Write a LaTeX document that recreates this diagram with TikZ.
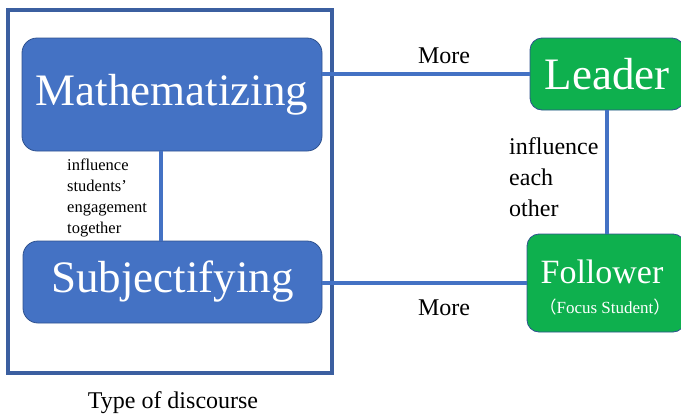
\documentclass[tikz,border=0pt]{standalone}
\usepackage{fontspec}
\setmainfont{Liberation Serif}
\newfontfamily\cjkfont{Noto Sans CJK SC}
\definecolor{boxblue}{HTML}{4472C4}
\definecolor{edgeblue}{HTML}{2F528F}
\definecolor{framblue}{HTML}{3B5FA0}
\definecolor{boxgreen}{HTML}{0EB04E}
\begin{document}
\begin{tikzpicture}[x=1pt,y=-1pt,
  bluebox/.style={draw=edgeblue,line width=0.8pt,fill=boxblue,rounded corners=15pt,text=white,inner sep=0pt},
  greenbox/.style={draw=edgeblue,line width=0.8pt,fill=boxgreen,rounded corners=12pt,text=white,inner sep=0pt},
  link/.style={draw=boxblue,line width=3.5pt},
  lbl/.style={inner sep=0pt,font=\fontsize{24}{31}\selectfont}]
\useasboundingbox (0,0) rectangle (681,413);
\clip (0,0) rectangle (681,413);
\node[draw=framblue,line width=3.5pt,minimum width=324pt,minimum height=363pt,inner sep=0pt] (frame) at (170,191.5) {};
\node[bluebox,minimum width=300pt,minimum height=113pt,font=\fontsize{45}{50}\selectfont] (math) at (172,94.5) {Mathematizing};
\node[bluebox,minimum width=299pt,minimum height=82pt,font=\fontsize{45}{50}\selectfont] (subj) at (172.5,282) {Subjectifying};
\node[greenbox,minimum width=154pt,minimum height=72pt,font=\fontsize{45}{50}\selectfont] (leader) at (607,74) {Leader};
\node[greenbox,minimum width=158pt,minimum height=98pt] (follower) at (606,283) {};
\node[text=white,inner sep=0pt,anchor=base,font=\fontsize{34}{38}\selectfont] (ftext) at (602,283) {Follower};
\node[text=white,inner sep=0pt,anchor=base,font=\fontsize{17}{20}\selectfont] (fsub) at (605,313) {{\cjkfont （}Focus Student{\cjkfont ）}};
\draw[link] (leader.west) -- (leader.west -| math.east);
\draw[link] (follower.west) -- (follower.west -| subj.east);
\draw[link] ([xshift=-11pt]math.south) -- ([xshift=-11pt]math.south |- subj.north);
\draw[link] (leader.south) -- (leader.south |- follower.north);
\node[lbl,anchor=base] (more1) at (444,63) {More};
\node[lbl,anchor=base] (more2) at (444,315) {More};
\node[lbl,anchor=north west,align=left,font=\fontsize{24}{31}\selectfont] (each) at (509,137) {influence\\each\\other};
\node[inner sep=0pt,anchor=north west,align=left,font=\fontsize{16.5}{20.8}\selectfont] (eng) at (67,159) {influence\\students’\\engagement\\together};
\node[lbl,anchor=base] (type) at (173,408) {Type of discourse};
\end{tikzpicture}
\end{document}
